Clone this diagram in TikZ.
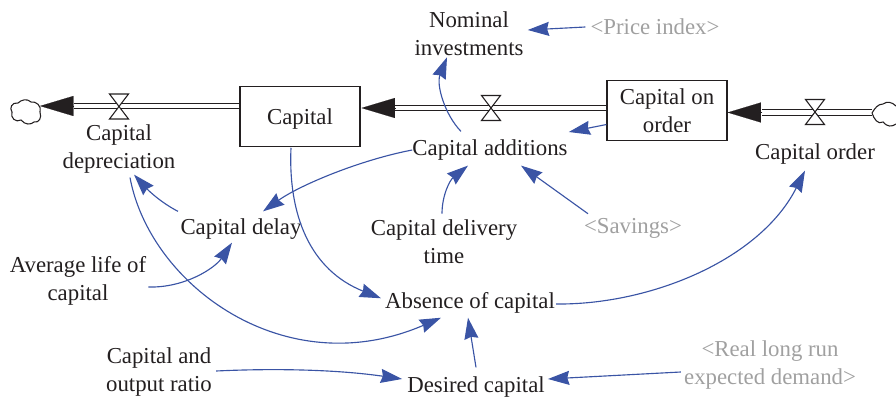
\documentclass[tikz,border=0pt]{standalone}
\usepackage{fontspec}
\setmainfont{Liberation Serif}
\usetikzlibrary{arrows.meta}
\definecolor{linkblue}{RGB}{58,84,165}
\definecolor{shadow}{RGB}{160,160,160}
\definecolor{ink}{RGB}{35,31,32}
\tikzset{
	lab/.style={inner sep=0pt,align=center,text=ink,font=\fontsize{17.1}{21}\selectfont},
	ghost/.style={lab,text=shadow},
	stock/.style={draw=ink,line width=0.9pt,minimum width=90pt,minimum height=44.5pt,inner sep=0pt,align=center,text=ink,font=\fontsize{17.1}{21}\selectfont},
	link/.style={draw=linkblue,line width=0.85pt,-{Stealth[length=16pt,width=10.5pt,inset=1.5pt]}},
	pipe/.style={draw=ink,line width=1pt,double=white,double distance=3pt},
	head/.style={draw=ink,fill=ink,line width=0.1pt,-{Triangle[length=25pt,width=15pt,fill=ink]}},
	valve/.style={draw=ink,line width=0.8pt,fill=white},
	cloud line/.style={draw=ink,line width=0.8pt}
}
\newcommand{\valveat}[2]{
	\draw[valve] (#1-9.5,#2-12.5) -- (#1+9.5,#2-12.5) -- (#1-9.5,#2+12.5) -- (#1+9.5,#2+12.5) -- cycle;
}
\begin{document}
\begin{tikzpicture}[x=0.75pt,y=-0.75pt]
	\useasboundingbox (0,0) rectangle (896,403);

	% stocks
	\node[stock,text depth=0pt] (capital) at (300,116.5) {Capital};
	\node[stock] (onorder) at (667,110.5) {Capital on\\order};

	% free ends of the pipes
	\coordinate (leftend) at (40,106);
	\coordinate (leftbase) at (74,106);
	\coordinate (midbase) at (395,108);
	\coordinate (midtip) at (361.5,108);
	\coordinate (rightbase) at (762,112.5);
	\coordinate (rightend) at (872,112.5);

	% flows
	\draw[pipe] (capital.west |- leftbase) -- (leftbase);
	\draw[head] (leftbase) -- (leftend);
	\draw[pipe] (onorder.west |- midbase) -- (midbase);
	\draw[head] (midbase) -- (midtip);
	\draw[pipe] (rightend) -- (rightbase);
	\draw[head] (rightbase) -- (onorder.east |- rightbase);
	\valveat{119}{106.5}
	\valveat{491}{108}
	\valveat{815}{112}

	% clouds
	\draw[cloud line] (40,112) .. controls (42,106) and (36,101) .. (31,102)
		.. controls (27,98) and (21,100) .. (18,103)
		.. controls (12,102) and (9,108) .. (12,112)
		.. controls (10,118) and (16,123) .. (21,120)
		.. controls (25,125) and (31,125) .. (34,122)
		.. controls (39,123) and (42,118) .. (40,112);
	\draw[cloud line] (872,113) .. controls (875,108) and (878,104) .. (883,104)
		.. controls (887,101) and (892,102) .. (896,106);
	\draw[cloud line] (872,113) .. controls (874,119) and (878,125) .. (883,122)
		.. controls (887,127) and (892,127) .. (896,124);

	% labels
	\node[lab] (nominal) at (469,34) {Nominal\\investments};
	\node[ghost] (price) at (655,27) {<Price index>};
	\node[lab] (depreciation) at (119,149) {Capital\\depreciation};
	\node[lab] (additions) at (490,150) {Capital additions};
	\node[lab] (order) at (815,154) {Capital order};
	\node[lab] (delay) at (241,229) {Capital delay};
	\node[lab] (delivery) at (444,242) {Capital delivery\\time};
	\node[ghost] (savings) at (633,228) {<Savings>};
	\node[lab] (life) at (78,281) {Average life of\\capital};
	\node[lab] (absence) at (470,303) {Absence of capital};
	\node[lab] (ratio) at (159,372) {Capital and\\output ratio};
	\node[lab] (desired) at (476,387) {Desired capital};
	\node[ghost] (demand) at (770,365) {<Real long run\\expected demand>};

	% links
	\draw[link] ([shift={(-5,0)}]price.west) -- ([shift={(4,-4)}]nominal.east);
	\draw[link] ([shift={(-29,-8)}]additions.north) .. controls (445,115) and (436,85) .. ([shift={(-22,1)}]nominal.south);
	\draw[link] ([shift={(0,14)}]onorder.west) -- ([shift={(1,-18)}]additions.east);
	\draw[link] (additions.west) .. controls (360,160) and (300,185) .. ([shift={(22,-7)}]delay.north);
	\draw[link] ([shift={(-63,-7)}]delay.north) .. controls (160,202) and (148,190) .. ([shift={(15,1)}]depreciation.south);
	\draw[link] ([shift={(-2,-6)}]delivery.north) .. controls (442,195) and (450,180) .. ([shift={(-22,5)}]additions.south);
	\draw[link] ([shift={(-45,-4)}]savings.north) -- ([shift={(31,5)}]additions.south);
	\draw[link] ([shift={(-9,1)}]capital.south) .. controls (288,215) and (310,270) .. ([shift={(-89,6)}]absence.north);
	\draw[link] ([shift={(11,4)}]depreciation.south) .. controls (150,285) and (285,385) .. ([shift={(-29,4)}]absence.south);
	\draw[link] ([shift={(2,6)}]life.east) .. controls (185,288) and (215,268) .. ([shift={(-9,3)}]delay.south);
	\draw[link] ([shift={(1,1)}]absence.east) .. controls (650,305) and (760,260) .. ([shift={(-10,6)}]order.south);
	\draw[link] ([shift={(4,-1)}]ratio.east) .. controls (280,368) and (340,370) .. ([shift={(-5,-8)}]desired.west);
	\draw[link] ([shift={(0,-9)}]desired.north) -- ([shift={(-2,4)}]absence.south);
	\draw[link] ([shift={(-3,7)}]demand.west) -- ([shift={(3,-8)}]desired.east);
\end{tikzpicture}
\end{document}
